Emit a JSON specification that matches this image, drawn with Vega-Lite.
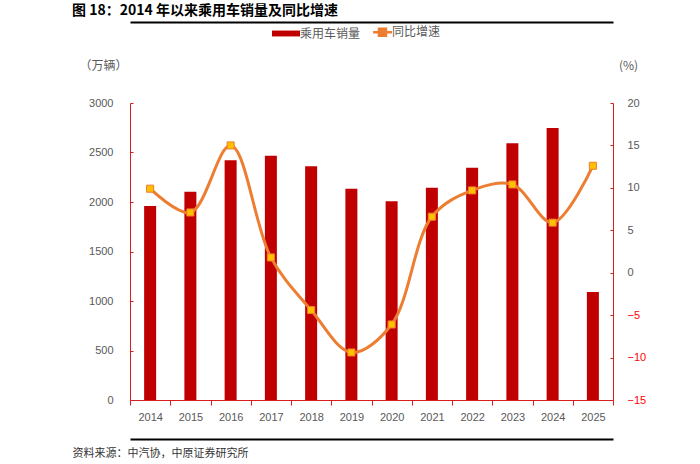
{
  "$schema": "https://vega.github.io/schema/vega-lite/v6.json",
  "width": 483,
  "height": 297,
  "autosize": {"type": "none"},
  "padding": {"left": 130, "top": 103, "right": 87, "bottom": 64},
  "background": "white",
  "config": {
    "view": {"stroke": null},
    "font": "Noto Sans CJK SC",
    "axis": {"labelFont": "Liberation Sans Narrow, Liberation Sans", "labelFontSize": 11, "labelColor": "#595959", "grid": false}
  },
  "title": {
    "text": "图 18：2014 年以来乘用车销量及同比增速",
    "anchor": "start",
    "dx": 0,
    "fontSize": 14,
    "fontWeight": "bold",
    "color": "#000000",
    "font": "Noto Sans CJK SC"
  },
  "data": {
    "values": [
      {"year": "2014", "sales": 1960, "growth": 9.9},
      {"year": "2015", "sales": 2104, "growth": 7.1},
      {"year": "2016", "sales": 2421, "growth": 15.0},
      {"year": "2017", "sales": 2468, "growth": 1.8},
      {"year": "2018", "sales": 2360, "growth": -4.4},
      {"year": "2019", "sales": 2134, "growth": -9.4},
      {"year": "2020", "sales": 2008, "growth": -6.1},
      {"year": "2021", "sales": 2145, "growth": 6.6},
      {"year": "2022", "sales": 2347, "growth": 9.7},
      {"year": "2023", "sales": 2593, "growth": 10.4},
      {"year": "2024", "sales": 2747, "growth": 5.9},
      {"year": "2025", "sales": 1091, "growth": 12.6}
    ]
  },
  "layer": [
    {
      "mark": {"type": "bar", "width": 12},
      "encoding": {
        "x": {
          "field": "year", "type": "ordinal",
          "scale": {"paddingInner": 0, "paddingOuter": 0},
          "axis": {"orient": "bottom", "title": null, "labelAngle": 0, "tickBand": "extent", "domainColor": "#D81E1E", "tickColor": "#D81E1E", "tickSize": 5, "labelPadding": 6}
        },
        "y": {
          "field": "sales", "type": "quantitative",
          "scale": {"domain": [0, 3000]},
          "axis": {"orient": "left", "format": "d", "values": [0, 500, 1000, 1500, 2000, 2500, 3000], "domainColor": "#D81E1E", "tickColor": "#D81E1E", "tickSize": -3, "labelPadding": 20, "title": "（万辆）", "titleAngle": 0, "titleX": -27, "titleY": -38, "titleAlign": "center", "titleBaseline": "middle", "titleFontSize": 12, "titleFontWeight": "normal", "titleColor": "#595959"}
        },
        "color": {
          "datum": "乘用车销量",
          "scale": {"domain": ["乘用车销量", "同比增速"], "range": ["#C00000", "#ED7D31"]},
          "legend": {
            "orient": "none", "legendX": 150, "legendY": -77, "direction": "horizontal", "title": null,
            "labelFontSize": 12, "labelColor": "#595959", "symbolSize": 784, "columnPadding": 7, "labelOffset": 8,
            "encode": {
              "symbols": {
                "update": {
                  "shape": {"signal": "datum.label === '乘用车销量' ? 'M-1,-0.21H1V0.21H-1Z' : 'M-0.35,0H0.07M0.57,0H1M0.07,-0.25H0.57V0.25H0.07Z'"},
                  "fill": {"signal": "datum.label === '乘用车销量' ? '#C00000' : '#FFC000'"},
                  "stroke": {"signal": "datum.label === '乘用车销量' ? '#C00000' : '#ED7D31'"},
                  "strokeWidth": {"signal": "datum.label === '乘用车销量' ? 0 : 2.5"},
                  "opacity": {"value": 1},
                  "fillOpacity": {"value": 1}
                }
              }
            }
          }
        }
      }
    },
    {
      "mark": {"type": "line", "interpolate": "catmull-rom", "strokeWidth": 3},
      "encoding": {
        "x": {
          "field": "year", "type": "ordinal",
          "axis": {"orient": "top", "offset": 81, "domain": true, "labels": false, "ticks": false, "title": null, "domainColor": "#000000", "domainWidth": 2, "domainOpacity": 1}
        },
        "y": {
          "field": "growth", "type": "quantitative",
          "scale": {"domain": [-15, 20]},
          "axis": {"orient": "right", "values": [-15, -10, -5, 0, 5, 10, 15, 20], "domainColor": "#D81E1E", "tickColor": "#D81E1E", "tickSize": -3, "labelPadding": 17,
            "labelColor": {"condition": {"test": "datum.value < 0", "value": "#FF0000"}, "value": "#595959"},
            "title": "(%)", "titleAngle": 0, "titleX": 15, "titleY": -38, "titleAlign": "center", "titleBaseline": "middle", "titleFontSize": 12, "titleFontWeight": "normal", "titleColor": "#595959"}
        },
        "color": {"datum": "同比增速"}
      }
    },
    {
      "mark": {"type": "point", "shape": "square", "filled": true, "fill": "#FFC000", "stroke": "#ED7D31", "strokeWidth": 1, "size": 50, "opacity": 1},
      "encoding": {
        "x": {
          "field": "year", "type": "ordinal",
          "axis": {"orient": "bottom", "offset": 39, "domain": true, "labels": false, "ticks": false, "domainColor": "#000000", "domainWidth": 2, "domainOpacity": 1,
            "title": "资料来源：中汽协，中原证券研究所", "titleAnchor": "start", "titleAlign": "left", "titleX": -58, "titleY": 8, "titleFontSize": 11, "titleFontWeight": "normal", "titleColor": "#333333"}
        },
        "y": {
          "field": "growth", "type": "quantitative",
          "scale": {"domain": [-15, 20]},
          "axis": null
        }
      }
    }
  ],
  "resolve": {"scale": {"y": "independent"}, "axis": {"x": "independent"}}
}
